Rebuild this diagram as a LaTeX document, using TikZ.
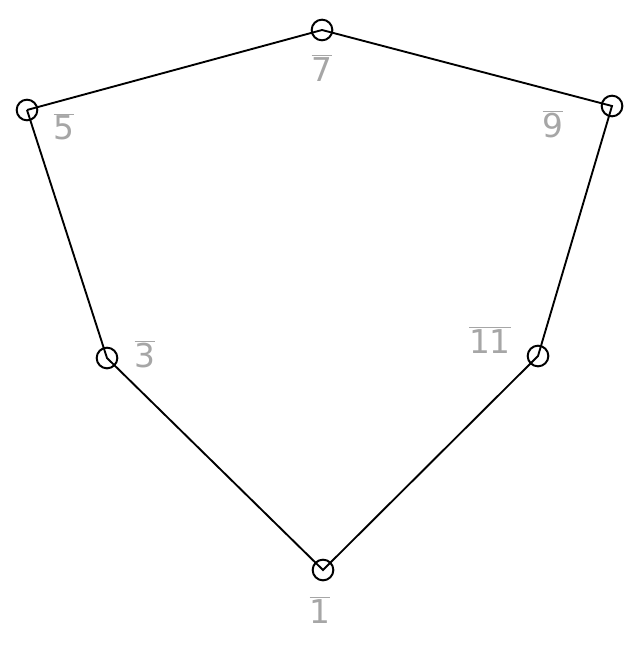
\documentclass[tikz,border=0pt]{standalone}
\usepackage{fontspec}
\setsansfont{DejaVu Sans}
\begin{document}
\begin{tikzpicture}[x=0.03cm,y=-0.03cm,
  vtx/.style={circle,draw,line width=1.7pt,minimum size=0.62cm,inner sep=0pt},
  edge/.style={line width=1.6pt},
  lab/.style={text=black!35,font=\sffamily\fontsize{28}{30}\selectfont,inner sep=0pt}]
\useasboundingbox (0,0) rectangle (637,646);
\node[vtx] (v7) at (322,30) {};
\node[vtx] (v5) at (27,110) {};
\node[vtx] (v9) at (612,106) {};
\node[vtx] (v3) at (107,358) {};
\node[vtx] (v11) at (538,356) {};
\node[vtx] (v1) at (323,570) {};
\draw[edge] (v5.center) -- (v7.center) -- (v9.center) -- (v11.center) -- (v1.center) -- (v3.center) -- (v5.center);
\node[lab] (l7) at (322,68) {$\overline{\mathsf{7}}$};
\node[lab] (l5) at (64,127) {$\overline{\mathsf{5}}$};
\node[lab] (l9) at (553,124) {$\overline{\mathsf{9}}$};
\node[lab] (l3) at (145,354) {$\overline{\mathsf{3}}$};
\node[lab] (l11) at (490,340) {$\overline{\mathsf{11}}$};
\node[lab] (l1) at (320,610) {$\overline{\mathsf{1}}$};
\end{tikzpicture}
\end{document}
